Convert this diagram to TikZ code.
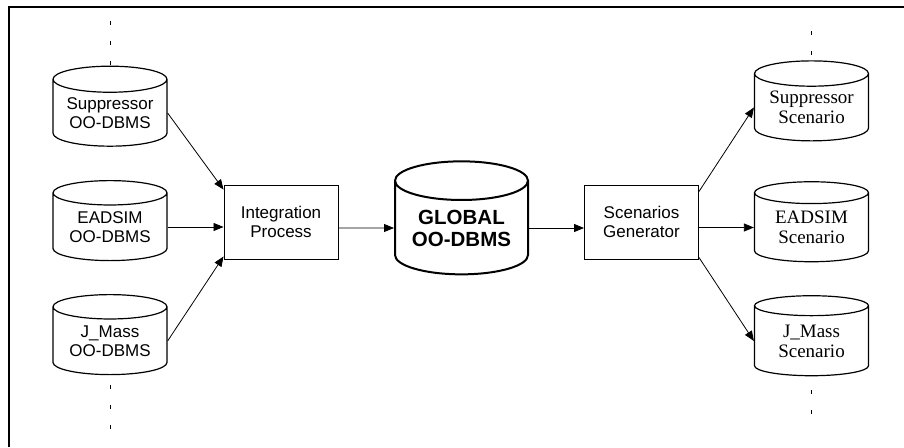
\documentclass[tikz,border=0pt]{standalone}
\usepackage{fontspec}
\setmainfont{Liberation Serif}
\setsansfont{Liberation Sans}
\usetikzlibrary{shapes.geometric,arrows.meta}

\tikzset{
  db/.style={cylinder, shape border rotate=90, draw, line width=1.2pt, aspect=0.3,
    align=center, inner sep=0pt, minimum width=114pt, minimum height=80pt},
  srcdb/.style={db, font=\sffamily\fontsize{17}{19}\selectfont},
  outdb/.style={db, font=\rmfamily\fontsize{19}{20}\selectfont},
  proc/.style={rectangle, draw, line width=0.9pt, align=center, minimum width=114pt,
    minimum height=74pt, font=\sffamily\fontsize{17}{19}\selectfont},
  flow/.style={line width=0.8pt, -{Triangle[length=10pt,width=8pt]}},
  gap/.style={line width=0.9pt, dash pattern=on 4pt off 16pt}
}

\begin{document}
\begin{tikzpicture}[x=1pt,y=-1pt]
\useasboundingbox (0,0) rectangle (904,447);
\draw[line width=2pt] (9,447) -- (9,7) -- (904,7);

% sources
\node[srcdb] (supdb) at (110,113) {Suppressor\\OO-DBMS};
\node[srcdb] (eaddb) at (110,227) {EADSIM\\OO-DBMS};
\node[srcdb] (jmdb) at (110,341) {J\_Mass\\OO-DBMS};

\node[proc] (integ) at (281,222) {Integration\\Process};
\node[db, line width=2pt, aspect=0.39, minimum width=133pt, minimum height=113pt,
  font=\sffamily\bfseries\fontsize{20.5}{22}\selectfont] (global) at (461.5,228) {GLOBAL\\OO-DBMS};
\node[proc] (scen) at (641.5,222) {Scenarios\\Generator};

% scenarios
\node[outdb] (supsc) at (811.5,107.5) {Suppressor\\Scenario};
\node[outdb] (eadsc) at (811.5,227.5) {EADSIM\\Scenario};
\node[outdb] (jmsc) at (811.5,341) {J\_Mass\\Scenario};

\draw[flow] (supdb.east) -- ([yshift=-5pt]integ.north west);
\draw[flow] (eaddb.east) -- (eaddb.east -| integ.west);
\draw[flow] (jmdb.east) -- ([yshift=3pt]integ.south west);
\draw[flow] (integ.east |- global) -- (global.west);
\draw[flow] (global.east) -- (global.east -| scen.west);
\draw[flow] ([yshift=-7pt]scen.north east) -- (supsc.west);
\draw[flow] (scen.east |- eadsc) -- (eadsc.west);
\draw[flow] ([yshift=2pt]scen.south east) -- (jmsc.west);

% more of the same
\coordinate (lt) at (110,21);
\coordinate (lb) at (110,385);
\coordinate (rt) at (811.5,31);
\coordinate (rb) at (811.5,390);
\draw[gap] (lt) -- ++(0,44);
\draw[gap] (lb) -- ++(0,44);
\draw[gap] (rt) -- ++(0,24);
\draw[gap] (rb) -- ++(0,24);
\end{tikzpicture}
\end{document}
